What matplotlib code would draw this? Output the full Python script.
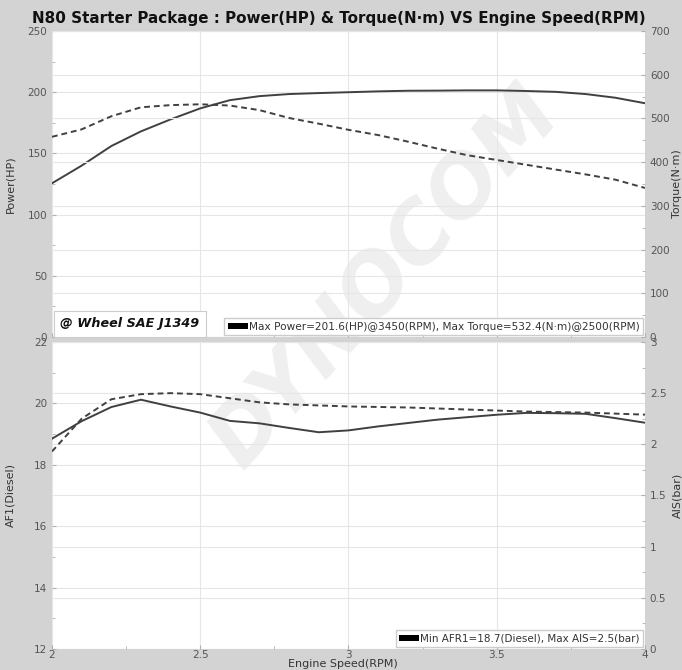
import matplotlib
matplotlib.use("Agg")
import matplotlib.pyplot as plt
from matplotlib.patches import Patch
from matplotlib.ticker import MultipleLocator

# engine speed (x1000 RPM)
rpm = [2.0, 2.1, 2.2, 2.3, 2.4, 2.5, 2.6, 2.7, 2.8, 2.9, 3.0,
       3.1, 3.2, 3.3, 3.4, 3.5, 3.6, 3.7, 3.8, 3.9, 4.0]

power_hp = [125.6, 140, 156, 168, 177.8, 186.8, 193.5, 196.8, 198.5, 199.3, 200,
            200.7, 201.2, 201.3, 201.5, 201.5, 201, 200.3, 198.5, 195.5, 191]
torque_nm = [458, 475, 505, 525.5, 530.5, 532.4, 529.5, 519, 501, 488, 474,
             462, 447, 431, 416, 405, 394, 383, 372, 360, 341]
afr = [18.85, 19.42, 19.88, 20.12, 19.9, 19.7, 19.43, 19.35, 19.2, 19.06, 19.12,
       19.25, 19.36, 19.47, 19.55, 19.63, 19.69, 19.68, 19.66, 19.52, 19.37]
ais_bar = [1.93, 2.25, 2.44, 2.49, 2.5, 2.49, 2.45, 2.41, 2.39, 2.38, 2.37,
           2.365, 2.36, 2.35, 2.34, 2.33, 2.32, 2.315, 2.31, 2.30, 2.29]

x_ticks = [2, 2.5, 3, 3.5, 4]
x_ticklabels = ["2", "2.5", "3", "3.5", "4"]

title = "N80 Starter Package : Power(HP) & Torque(N\u00b7m) VS Engine Speed(RPM)"
top_legend = "Max Power=201.6(HP)@3450(RPM), Max Torque=532.4(N\u00b7m)@2500(RPM)"
bottom_legend = "Min AFR1=18.7(Diesel), Max AIS=2.5(bar)"

line_col = "#404040"
grid_col = "#e6e6e6"
tick_col = "#555555"

fig = plt.figure(figsize=(6.82, 6.70), dpi=100)
fig.patch.set_facecolor("#d3d3d3")

ax1 = fig.add_axes([0.0762, 0.497, 0.8695, 0.4567])
ax2 = fig.add_axes([0.0762, 0.0313, 0.8695, 0.4583])
ax1r = ax1.twinx()
ax2r = ax2.twinx()


def style(ax, major, minor):
    for s in ax.spines.values():
        s.set_visible(False)
    ax.yaxis.set_major_locator(MultipleLocator(major))
    ax.yaxis.set_minor_locator(MultipleLocator(minor))
    ax.tick_params(which="both", direction="in", colors="#b0b0b0",
                   labelcolor=tick_col, labelsize=7.5)
    ax.tick_params(which="major", length=3)
    ax.tick_params(which="minor", length=2)
    ax.grid(True, axis="y", which="major", color=grid_col, lw=0.8)


for ax in (ax1, ax2):
    ax.set_facecolor("white")
    ax.set_xlim(2, 4)
    ax.set_xticks(x_ticks)
    ax.xaxis.set_minor_locator(MultipleLocator(0.25))
    ax.grid(True, axis="x", which="major", color=grid_col, lw=0.8)

style(ax1, 50, 25)
style(ax1r, 100, 50)
style(ax2, 2, 1)
style(ax2r, 0.5, 0.25)

ax1.set_ylim(0, 250)
ax1r.set_ylim(0, 700)
ax2.set_ylim(12, 22)
ax2r.set_ylim(0, 3)

ax1.tick_params(axis="x", labelbottom=False)
ax2.set_xticklabels(x_ticklabels)
ax2.tick_params(axis="x", pad=1)
ax2r.set_yticks([0, 0.5, 1, 1.5, 2, 2.5, 3])
ax2r.set_yticklabels(["0", "0.5", "1", "1.5", "2", "2.5", "3"])

# watermark, clipped to each plot area
for ax in (ax1, ax2):
    ax.text(0.565, 0.585, "DYNOCOM", transform=fig.transFigure, rotation=48,
            ha="center", va="center", fontsize=60, fontweight="bold",
            fontstyle="italic", color="#efefef", clip_on=True, zorder=0.5)

ax1.plot(rpm, power_hp, color=line_col, lw=1.4, zorder=3)
ax1r.plot(rpm, torque_nm, color=line_col, lw=1.4, ls=(0, (3, 2)), zorder=3)
ax2.plot(rpm, afr, color=line_col, lw=1.4, zorder=3)
ax2r.plot(rpm, ais_bar, color=line_col, lw=1.4, ls=(0, (3, 2)), zorder=3)

lab_kw = dict(fontsize=8, color="#333333")
ax1.set_ylabel("Power(HP)", **lab_kw)
ax1.yaxis.set_label_coords(-0.062, 0.5)
ax1r.set_ylabel("Torque(N\u00b7m)", **lab_kw)
ax1r.yaxis.set_label_coords(1.046, 0.5)
ax2.set_ylabel("AF1(Diesel)", **lab_kw)
ax2.yaxis.set_label_coords(-0.062, 0.5)
ax2r.set_ylabel("AIS(bar)", **lab_kw)
ax2r.yaxis.set_label_coords(1.046, 0.5)
ax2.set_xlabel("Engine Speed(RPM)", **lab_kw)
ax2.xaxis.set_label_coords(0.49, -0.032)

fig.text(0.497, 0.973, title, ha="center", va="center",
         fontsize=10.9, fontweight="bold", color="#111111")

leg_kw = dict(fancybox=False, edgecolor="#cccccc", framealpha=1,
              handlelength=1.9, handleheight=0.55, handletextpad=0.1,
              borderpad=0.35, borderaxespad=0.15, labelcolor="#333333")
l1 = ax1r.legend([Patch(facecolor="black")], [top_legend],
                 loc="lower right", fontsize=7.6, **leg_kw)
l1.set_zorder(10)
l2 = ax2r.legend([Patch(facecolor="black")], [bottom_legend],
                 loc="lower right", fontsize=7.5, **leg_kw)
l2.set_zorder(10)

ax1r.text(0.014, 0.022, "@ Wheel SAE J1349", transform=ax1r.transAxes,
          fontsize=9.2, fontweight="bold", fontstyle="italic", color="#111111",
          ha="left", va="bottom", zorder=10,
          bbox=dict(boxstyle="square,pad=0.5", fc="white", ec="#cccccc", lw=0.8))

fig.savefig("out.png", dpi=100, facecolor=fig.get_facecolor())
